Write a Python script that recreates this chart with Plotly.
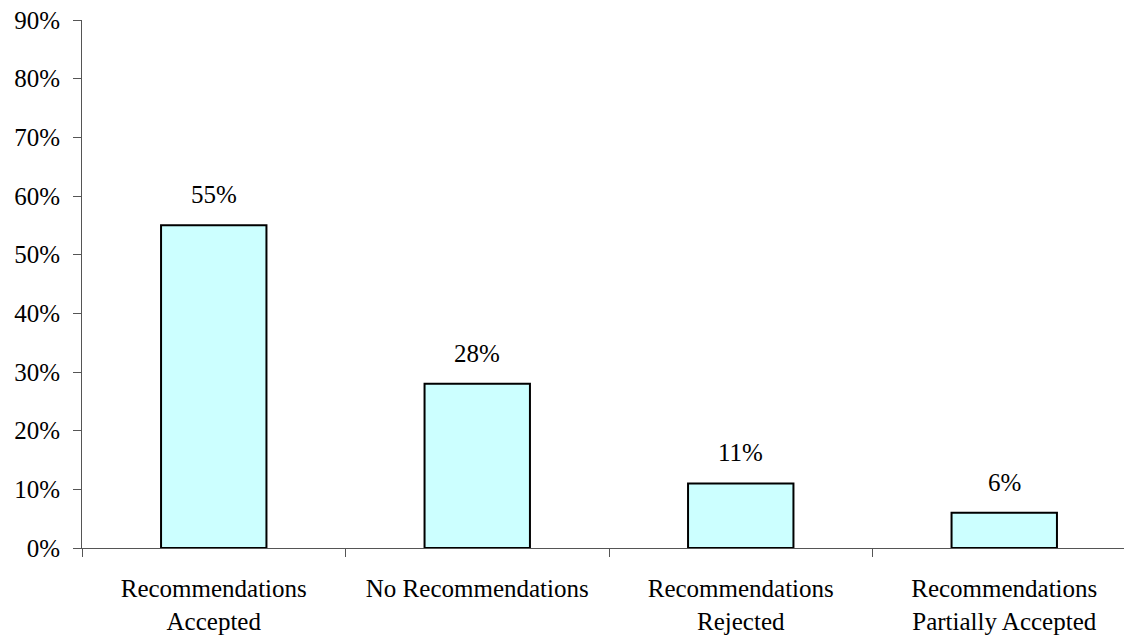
import plotly.graph_objects as go

# Outcome categories and their shares (percent)
categories = [
    "Recommendations<br>Accepted",
    "No Recommendations",
    "Recommendations<br>Rejected",
    "Recommendations<br>Partially Accepted",
]
shares = [55, 28, 11, 6]
y_ticks = [0, 10, 20, 30, 40, 50, 60, 70, 80, 90]
y_tick_labels = [f"{v}%" for v in y_ticks]

FONT = "Liberation Serif"
FONT_SIZE = 25
AXIS_COLOR = "#555555"

fig = go.Figure()
fig.add_trace(
    go.Bar(
        x=categories,
        y=shares,
        width=0.4,
        marker=dict(color="#CCFFFF", line=dict(color="black", width=2)),
        hoverinfo="skip",
    )
)

# Value labels above each bar
for cat, val in zip(categories, shares):
    fig.add_annotation(
        x=cat, y=val, text=f"{val}%", showarrow=False,
        yanchor="bottom", yshift=15,
        font=dict(family=FONT, size=FONT_SIZE, color="black"),
    )

fig.update_layout(
    width=1124, height=639,
    margin=dict(l=82, r=0, t=20, b=91),
    plot_bgcolor="white", paper_bgcolor="white",
    showlegend=False,
    font=dict(family=FONT, size=FONT_SIZE, color="black"),
    bargap=0.6,
)
fig.update_xaxes(
    type="category",
    range=[-0.5, -0.5 + 1042 / 263.5],
    tickson="boundaries",
    ticks="outside", ticklen=8, tickcolor=AXIS_COLOR,
    ticklabelstandoff=18,
    showline=True, linecolor=AXIS_COLOR, linewidth=1,
    showgrid=False, zeroline=False,
    tickfont=dict(family=FONT, size=FONT_SIZE, color="black"),
)
fig.update_yaxes(
    range=[0, 90],
    tickvals=y_ticks, ticktext=y_tick_labels,
    ticks="outside", ticklen=8, tickcolor=AXIS_COLOR,
    ticklabelstandoff=8,
    showline=True, linecolor=AXIS_COLOR, linewidth=1,
    showgrid=False, zeroline=False,
    tickfont=dict(family=FONT, size=FONT_SIZE, color="black"),
)

fig.write_html("out.html")
